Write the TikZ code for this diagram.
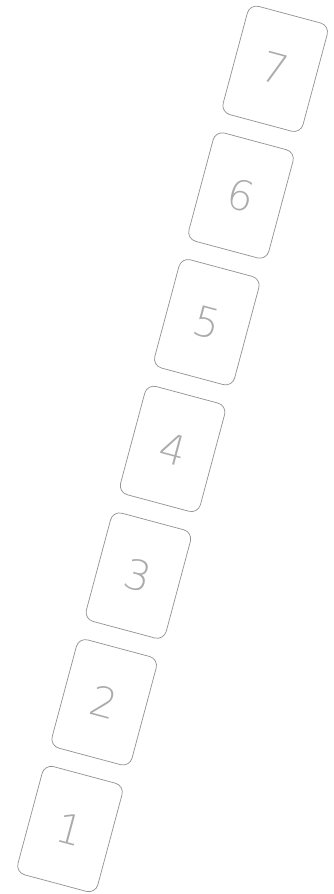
\documentclass[tikz,border=0pt]{standalone}
\usepackage{fontspec}
\newfontfamily\cardfont{DejaVu Sans ExtraLight}
\begin{document}
\begin{tikzpicture}[x=0.75pt,y=-0.75pt,
  card/.style={draw=black!42, line width=0.55pt, rounded corners=7pt,
    minimum width=62pt, minimum height=84pt, inner sep=0pt,
    rotate=-15, text=black!33, font=\cardfont\fontsize{31}{31}\selectfont}]
\useasboundingbox (0,0) rectangle (333,894);
\foreach \k in {1,...,7}{
  \node[card] (c\k) at ({70+34.2*(\k-1)},{829-126.7*(\k-1)}) {\k};
}
\end{tikzpicture}
\end{document}
